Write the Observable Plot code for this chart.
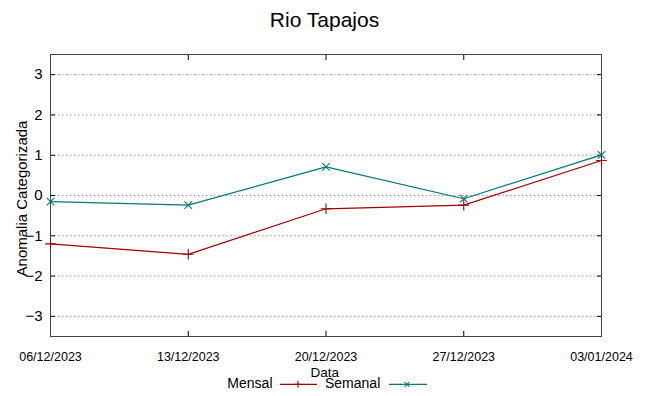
<!DOCTYPE html>
<html><head><meta charset="utf-8">
<script src="https://cdn.jsdelivr.net/npm/d3@7"></script>
<script src="https://cdn.jsdelivr.net/npm/@observablehq/plot@0.6"></script>
<style>
body{margin:0;background:#fff}
svg{font-family:"Liberation Sans",Arial,sans-serif}
</style>
</head><body><div id="chart"></div>
<script>
const title = "Rio Tapajos";
const yLabel = "Anomalia Categorizada";
const xLabel = "Data";
const dates = ["2023-12-06","2023-12-13","2023-12-20","2023-12-27","2024-01-03"];
const mensal = [-1.20,-1.46,-0.33,-0.24,0.87];
const semanal = [-0.15,-0.24,0.71,-0.08,1.01];
const yTicks = [-3,-2,-1,0,1,2,3];
const seriesNames = ["Mensal","Semanal"];
const colors = ["#a00000","#007878"];

const dateObjs = dates.map(d => new Date(d + "T00:00:00Z"));
const rows = dateObjs.map((d,i) => ({date:d, mensal:mensal[i], semanal:semanal[i]}));
const fmt = d3.utcFormat("%d/%m/%Y");

const W = 649, H = 396;
const plot = Plot.plot({
  width: W, height: H,
  marginLeft: 50, marginRight: 48, marginTop: 54, marginBottom: 60,
  x: {type:"utc", domain:[dateObjs[0], dateObjs[dateObjs.length-1]]},
  y: {domain:[-3.5,3.5]},
  marks: [
    Plot.gridY(yTicks, {stroke:"#999", strokeOpacity:1, strokeDasharray:"1.5,2.5"}),
    Plot.axisY(yTicks, {anchor:"left", tickSize:-5, tickFormat:()=>"", label:null, stroke:"#000"}),
    Plot.axisY(yTicks, {anchor:"right", tickSize:-5, tickFormat:()=>"", label:null, stroke:"#000"}),
    Plot.axisY(yTicks, {anchor:"left", tickSize:0, tickPadding:8, fontSize:15, label:null}),
    Plot.axisX(dateObjs, {anchor:"bottom", tickSize:-5, tickFormat:()=>"", label:null, stroke:"#000"}),
    Plot.axisX(dateObjs, {anchor:"top", tickSize:-5, tickFormat:()=>"", label:null, stroke:"#000"}),
    Plot.axisX(dateObjs, {anchor:"bottom", tickSize:0, tickPadding:16, fontSize:12.5, tickFormat:fmt, label:null}),
    Plot.frame({stroke:"#444"}),
    Plot.line(rows, {x:"date", y:"mensal", stroke:colors[0], strokeWidth:1.2}),
    Plot.dot(rows, {x:"date", y:"mensal", stroke:colors[0], symbol:"plus", r:3.5, strokeWidth:1.1}),
    Plot.line(rows, {x:"date", y:"semanal", stroke:colors[1], strokeWidth:1.2}),
    Plot.dot(rows, {x:"date", y:"semanal", stroke:colors[1], symbol:"times", r:3.5, strokeWidth:1.1})
  ]
});
document.getElementById("chart").appendChild(plot);

const svg = d3.select(plot);
svg.append("text").attr("x",324.5).attr("y",26.5).attr("text-anchor","middle")
  .attr("font-size",21).attr("fill","#000").text(title);
svg.append("text").attr("transform","translate(27,198.5) rotate(-90)").attr("text-anchor","middle")
  .attr("font-size",15).attr("fill","#000").text(yLabel);
svg.append("text").attr("x",324.7).attr("y",376.5).attr("text-anchor","middle")
  .attr("font-size",13.5).attr("fill","#000").text(xLabel);

// legend
const leg = svg.append("g");
leg.append("text").attr("x",272.5).attr("y",388.3).attr("text-anchor","end")
  .attr("font-size",14).attr("fill","#000").text(seriesNames[0]);
leg.append("line").attr("x1",280).attr("x2",317).attr("y1",384.3).attr("y2",384.3)
  .attr("stroke",colors[0]).attr("stroke-width",1.2);
leg.append("path").attr("d","M294.5,384.3h7M298,380.8v7").attr("stroke",colors[0]).attr("stroke-width",1.1);
leg.append("text").attr("x",325).attr("y",388.3).attr("text-anchor","start")
  .attr("font-size",14).attr("fill","#000").text(seriesNames[1]);
leg.append("line").attr("x1",389).attr("x2",427).attr("y1",384.3).attr("y2",384.3)
  .attr("stroke",colors[1]).attr("stroke-width",1.2);
leg.append("path").attr("d","M404.5,381.8l5,5M404.5,386.8l5,-5").attr("stroke",colors[1]).attr("stroke-width",1.1);
</script>
</body></html>
